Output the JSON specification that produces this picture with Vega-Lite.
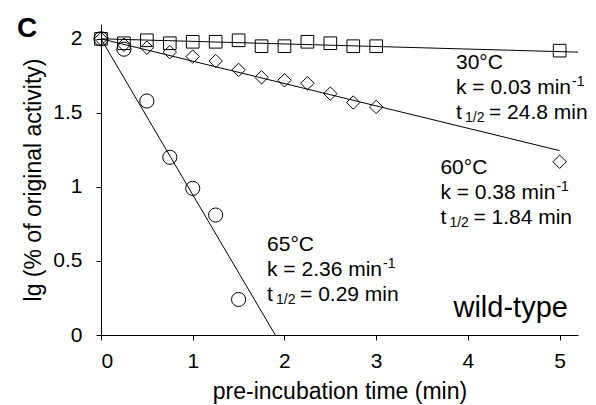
{
  "$schema": "https://vega.github.io/schema/vega-lite/v6.json",
  "width": 477,
  "height": 311,
  "autosize": "none",
  "padding": {"left": 101, "top": 24, "right": 18, "bottom": 70},
  "background": "white",
  "title": {"text": "C", "anchor": "start", "frame": "group", "fontSize": 28, "fontWeight": "bold", "font": "Liberation Sans", "color": "black", "baseline": "alphabetic", "offset": 0, "dx": -84, "dy": 41},
  "config": {
    "view": {"stroke": null},
    "font": "Liberation Sans",
    "axis": {"grid": false, "domainColor": "black", "tickColor": "black", "labelColor": "black", "titleColor": "black", "tickSize": 5, "labelFont": "Liberation Sans", "titleFont": "Liberation Sans", "labelFontSize": 21, "titleFontSize": 23, "titleFontWeight": "normal"},
    "axisX": {"labelPadding": 10, "titlePadding": 9},
    "axisY": {"labelPadding": 14, "titlePadding": 7},
    "point": {"strokeWidth": 1}
  },
  "datasets": {
    "points": [
      {"series": "30°C", "t": 0, "lg": 2.0}, {"series": "30°C", "t": 0.25, "lg": 1.97}, {"series": "30°C", "t": 0.5, "lg": 1.99}, {"series": "30°C", "t": 0.75, "lg": 1.97}, {"series": "30°C", "t": 1, "lg": 1.98}, {"series": "30°C", "t": 1.25, "lg": 1.98}, {"series": "30°C", "t": 1.5, "lg": 1.99}, {"series": "30°C", "t": 1.75, "lg": 1.95}, {"series": "30°C", "t": 2, "lg": 1.95}, {"series": "30°C", "t": 2.25, "lg": 1.98}, {"series": "30°C", "t": 2.5, "lg": 1.97}, {"series": "30°C", "t": 2.75, "lg": 1.95}, {"series": "30°C", "t": 3, "lg": 1.95}, {"series": "30°C", "t": 5, "lg": 1.92},
      {"series": "60°C", "t": 0, "lg": 2.0}, {"series": "60°C", "t": 0.25, "lg": 1.96}, {"series": "60°C", "t": 0.5, "lg": 1.94}, {"series": "60°C", "t": 0.75, "lg": 1.91}, {"series": "60°C", "t": 1, "lg": 1.88}, {"series": "60°C", "t": 1.25, "lg": 1.85}, {"series": "60°C", "t": 1.5, "lg": 1.79}, {"series": "60°C", "t": 1.75, "lg": 1.74}, {"series": "60°C", "t": 2, "lg": 1.72}, {"series": "60°C", "t": 2.25, "lg": 1.7}, {"series": "60°C", "t": 2.5, "lg": 1.63}, {"series": "60°C", "t": 2.75, "lg": 1.57}, {"series": "60°C", "t": 3, "lg": 1.54}, {"series": "60°C", "t": 5, "lg": 1.17},
      {"series": "65°C", "t": 0, "lg": 2.0}, {"series": "65°C", "t": 0.25, "lg": 1.93}, {"series": "65°C", "t": 0.5, "lg": 1.58}, {"series": "65°C", "t": 0.75, "lg": 1.2}, {"series": "65°C", "t": 1, "lg": 0.99}, {"series": "65°C", "t": 1.25, "lg": 0.81}, {"series": "65°C", "t": 1.5, "lg": 0.24}
    ],
    "fits": [
      {"series": "30°C", "t": 0, "lg": 2.0}, {"series": "30°C", "t": 5.2, "lg": 1.91},
      {"series": "60°C", "t": 0, "lg": 2.0}, {"series": "60°C", "t": 5, "lg": 1.245},
      {"series": "65°C", "t": 0, "lg": 2.0}, {"series": "65°C", "t": 1.9, "lg": 0}
    ],
    "labels": [
      {"series": "30°C", "t": 3.87, "lg": 1.837, "head": "30°C", "k": "k = 0.03 min", "kexp": "-1", "tsym": "t", "tsub": "1/2", "half": "= 24.8 min"},
      {"series": "60°C", "t": 3.7, "lg": 1.128, "head": "60°C", "k": "k = 0.38 min", "kexp": "-1", "tsym": "t", "tsub": "1/2", "half": "= 1.84 min"},
      {"series": "65°C", "t": 1.81, "lg": 0.608, "head": "65°C", "k": "k = 2.36 min", "kexp": "-1", "tsym": "t", "tsub": "1/2", "half": "= 0.29 min"}
    ],
    "tags": [
      {"t": 5.09, "lg": 0.18, "text": "wild-type"}
    ]
  },
  "encoding": {
    "x": {"field": "t", "type": "quantitative", "scale": {"domain": [0, 5.2], "nice": false, "zero": false}, "axis": {"values": [0, 1, 2, 3, 4, 5], "format": "d", "title": "pre-incubation time (min)"}},
    "y": {"field": "lg", "type": "quantitative", "scale": {"domain": [0, 2.1], "nice": false}, "axis": {"values": [0, 0.5, 1, 1.5, 2], "format": "~g", "title": "lg (% of original activity)"}}
  },
  "layer": [
    {"data": {"name": "fits"}, "mark": {"type": "line", "color": "black", "strokeWidth": 1}, "encoding": {"detail": {"field": "series"}}},
    {"data": {"name": "points"}, "mark": {"type": "point", "filled": false, "color": "black", "strokeWidth": 1, "opacity": 1},
      "encoding": {
        "shape": {"field": "series", "type": "nominal", "scale": {"domain": ["30°C", "60°C", "65°C"], "range": ["square", "diamond", "circle"]}, "legend": null},
        "size": {"field": "series", "type": "nominal", "scale": {"domain": ["30°C", "60°C", "65°C"], "range": [160, 200, 130]}, "legend": null}
      }},
    {"data": {"name": "labels"}, "mark": {"type": "text", "align": "left", "baseline": "middle", "fontSize": 21, "color": "black"}, "encoding": {"text": {"field": "head"}}},
    {"data": {"name": "labels"}, "mark": {"type": "text", "align": "left", "baseline": "middle", "fontSize": 21, "color": "black", "dy": 25}, "encoding": {"text": {"field": "k"}}},
    {"data": {"name": "labels"}, "mark": {"type": "text", "align": "left", "baseline": "middle", "fontSize": 14, "color": "black", "dx": 116, "dy": 19}, "encoding": {"text": {"field": "kexp"}}},
    {"data": {"name": "labels"}, "mark": {"type": "text", "align": "left", "baseline": "middle", "fontSize": 21, "color": "black", "dy": 50}, "encoding": {"text": {"field": "tsym"}}},
    {"data": {"name": "labels"}, "mark": {"type": "text", "align": "left", "baseline": "middle", "fontSize": 14, "color": "black", "dx": 9, "dy": 55}, "encoding": {"text": {"field": "tsub"}}},
    {"data": {"name": "labels"}, "mark": {"type": "text", "align": "left", "baseline": "middle", "fontSize": 21, "color": "black", "dx": 33, "dy": 50}, "encoding": {"text": {"field": "half"}}},
    {"data": {"name": "tags"}, "mark": {"type": "text", "align": "right", "baseline": "middle", "fontSize": 29, "color": "black"}, "encoding": {"text": {"field": "text"}}}
  ]
}
